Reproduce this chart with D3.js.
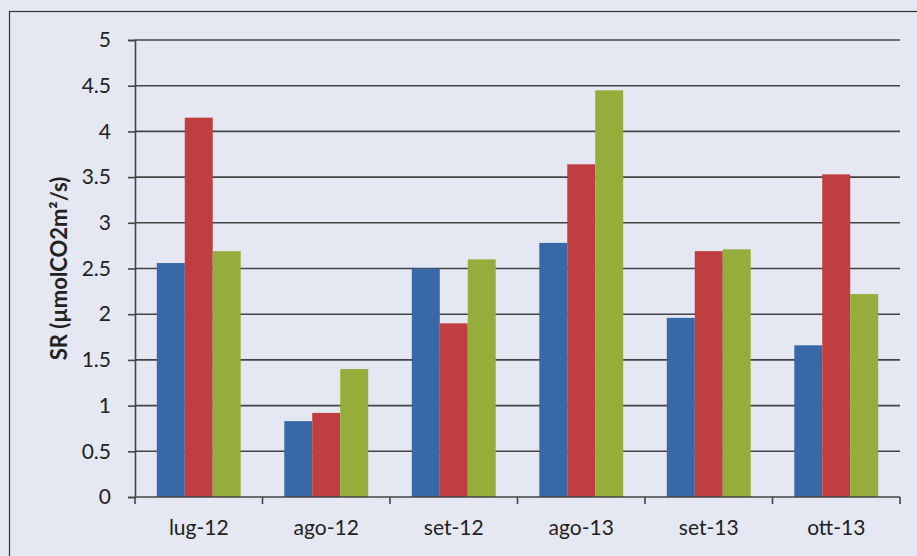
<!DOCTYPE html>
<html>
<head>
<meta charset="utf-8">
<script src="https://cdn.jsdelivr.net/npm/d3@7"></script>
<style>
  html, body { margin: 0; padding: 0; background: #e5e7f3; }
  svg { display: block; }
  text { font-family: Lato, "Open Sans", "Liberation Sans", sans-serif; fill: #222; }
</style>
</head>
<body>
<svg id="chart" width="917" height="556"></svg>
<script>
// Soil respiration by sampling month, three series
const categories = ["lug-12", "ago-12", "set-12", "ago-13", "set-13", "ott-13"];
const seriesA = [2.56, 0.83, 2.50, 2.78, 1.96, 1.66];
const seriesB = [4.15, 0.92, 1.90, 3.64, 2.69, 3.53];
const seriesC = [2.69, 1.40, 2.60, 4.45, 2.71, 2.22];
const seriesColors = ["#3868a6", "#c03d40", "#95ad3b"];
const yTicks = [0, 0.5, 1, 1.5, 2, 2.5, 3, 3.5, 4, 4.5, 5];
const yTitle = "SR (µmolCO2m²/s)";

const series = [seriesA, seriesB, seriesC];
const svg = d3.select("#chart");

// outer frame
svg.append("rect")
  .attr("x", 9.5).attr("y", 11.5)
  .attr("width", 940).attr("height", 580)
  .attr("fill", "none").attr("stroke", "#333").attr("stroke-width", 1.2);

const plot = { left: 135, right: 900, top: 40, bottom: 497 };

const x0 = d3.scaleBand().domain(categories).range([plot.left, plot.right]).paddingInner(0).paddingOuter(0);
const x1 = d3.scaleBand().domain(d3.range(series.length)).range([0, x0.bandwidth()]).paddingOuter(0.78).paddingInner(0);
const y = d3.scaleLinear().domain([0, 5]).range([plot.bottom, plot.top]);

// horizontal gridlines
svg.append("g")
  .selectAll("line")
  .data(yTicks.filter(d => d > 0))
  .join("line")
  .attr("x1", plot.left).attr("x2", plot.right)
  .attr("y1", d => y(d)).attr("y2", d => y(d))
  .attr("stroke", "#444").attr("stroke-width", 1.6);

// bars
const groups = svg.append("g")
  .selectAll("g")
  .data(categories)
  .join("g")
  .attr("transform", d => `translate(${x0(d)},0)`);

groups.selectAll("rect")
  .data((c, i) => series.map((s, k) => ({ k, v: s[i] })))
  .join("rect")
  .attr("x", d => x1(d.k))
  .attr("width", x1.bandwidth())
  .attr("y", d => y(d.v))
  .attr("height", d => y(0) - y(d.v))
  .attr("fill", d => seriesColors[d.k]);

// y axis
const yAxis = d3.axisLeft(y).tickValues(yTicks).tickSize(7).tickPadding(17)
  .tickFormat(d => String(d));
const gy = svg.append("g").attr("transform", `translate(${plot.left},0)`).call(yAxis);
gy.select(".domain").attr("stroke", "#444").attr("stroke-width", 1.6);
gy.selectAll(".tick line").attr("stroke", "#444").attr("stroke-width", 1.6);
gy.selectAll(".tick text").style("font-size", "21px").attr("fill", "#222");

// x axis with ticks on category boundaries
const gx = svg.append("g").attr("transform", `translate(0,${plot.bottom})`);
gx.append("line")
  .attr("x1", plot.left).attr("x2", plot.right)
  .attr("stroke", "#444").attr("stroke-width", 1.6);
const bounds = categories.map(c => x0(c)).concat([x0(categories[categories.length - 1]) + x0.bandwidth()]);
gx.selectAll("line.tk")
  .data(bounds)
  .join("line")
  .attr("class", "tk")
  .attr("x1", d => d).attr("x2", d => d)
  .attr("y1", 0).attr("y2", 7)
  .attr("stroke", "#444").attr("stroke-width", 1.6);
gx.selectAll("text")
  .data(categories)
  .join("text")
  .attr("x", d => x0(d) + x0.bandwidth() / 2)
  .attr("y", 38)
  .attr("text-anchor", "middle")
  .style("font-size", "21px")
  .text(d => d);

// y axis title
svg.append("text")
  .attr("transform", `translate(67,${(plot.top + plot.bottom) / 2}) rotate(-90)`)
  .attr("text-anchor", "middle")
  .style("font-size", "22px")
  .style("font-weight", "bold")
  .text(yTitle);
</script>
</body>
</html>
